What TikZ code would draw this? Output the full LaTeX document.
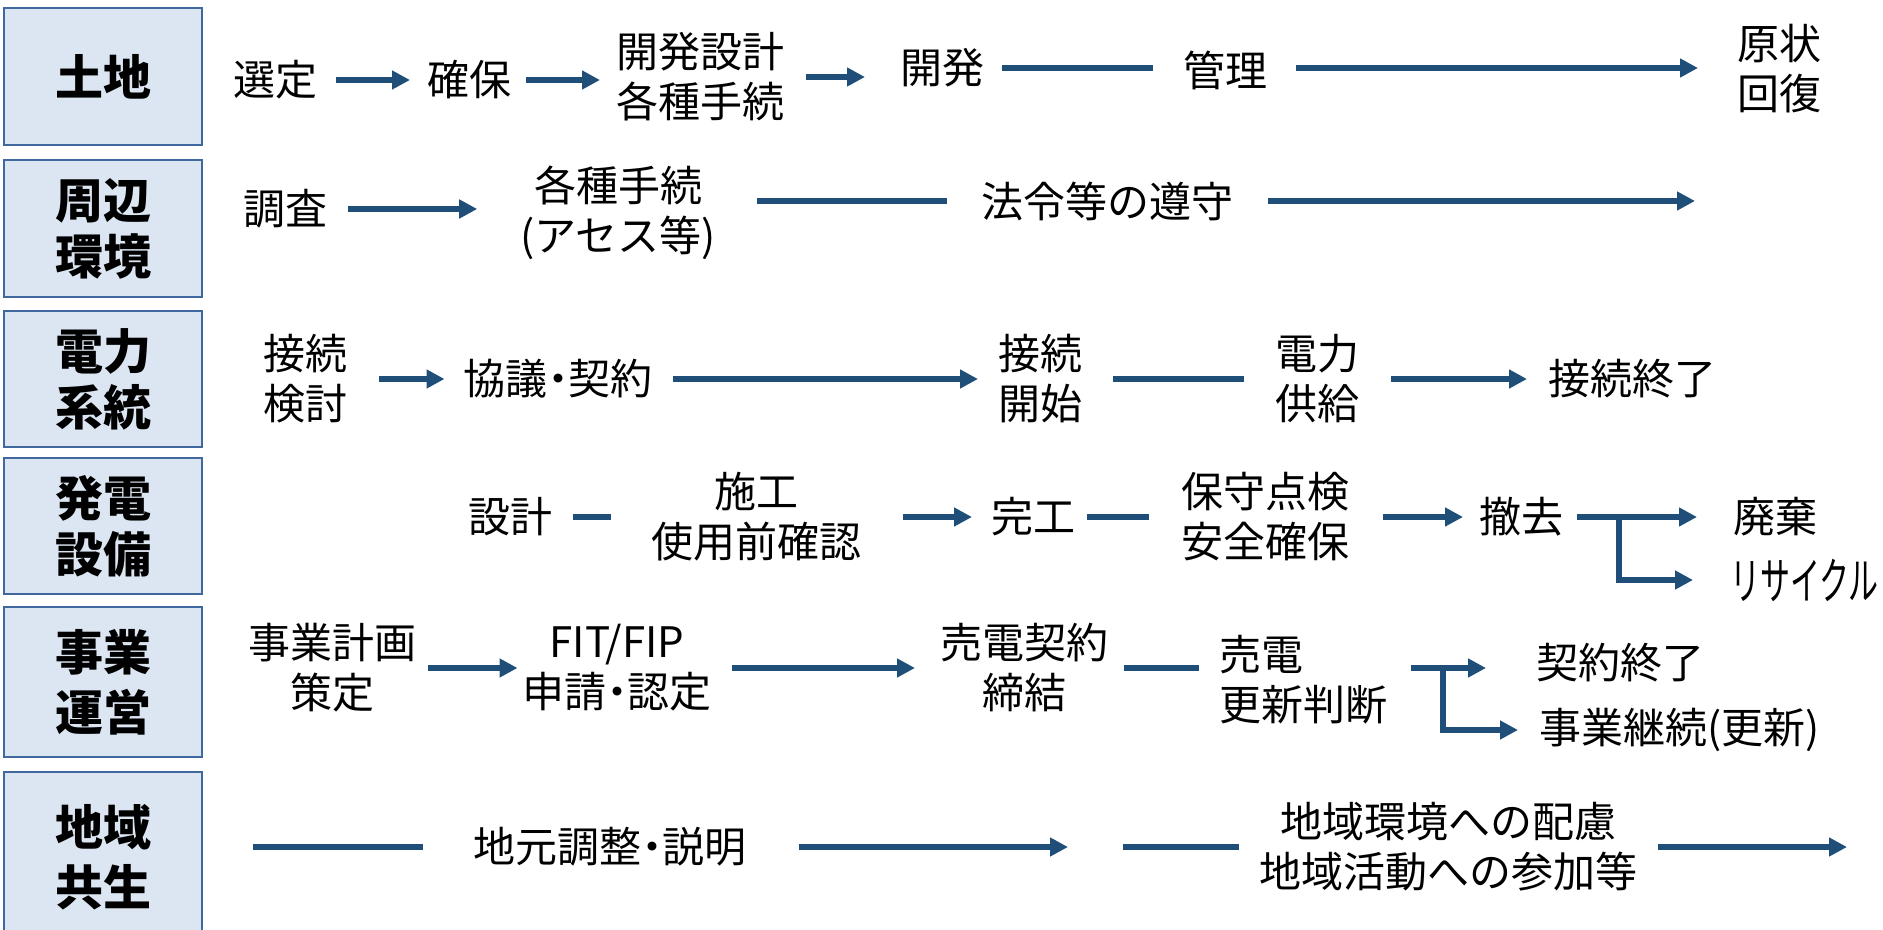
\documentclass[tikz,border=0pt]{standalone}
\usepackage{fontspec}
\usepackage{graphicx}
\setmainfont{Noto Sans CJK JP}
\newfontfamily\jpp{Noto Sans CJK JP}[RawFeature=+palt]
\usetikzlibrary{arrows.meta,calc}
\definecolor{arrowblue}{HTML}{1F4E79}
\definecolor{boxfill}{HTML}{DCE6F2}
\definecolor{boxline}{HTML}{41689E}
\tikzset{
  ln/.style={draw=arrowblue, line width=3.2pt},
  arr/.style={ln, -{Triangle[length=9pt,width=9pt]}},
  head/.style={draw=boxline, line width=1pt, fill=boxfill, minimum width=99pt,
    inner sep=0pt, outer sep=0pt, align=center},
  hfont/.style={font=\fontsize{24}{28}\selectfont\bfseries},
  hfontb/.style={font=\fontsize{24}{30}\selectfont\bfseries},
  txt/.style={inner sep=0pt, outer sep=0pt, align=center,
    font=\fontsize{21}{25}\selectfont},
}
\newcommand\conn[6][arr]{%
  \path ($(#2.east)+(#4,0)$) coordinate (cs) ($(#3.west)+(-#5,0)$) coordinate (ct);
  \draw[#1] (cs |- #6) -- (ct |- #6);}
\newcommand\middot{{\jpp ・}}
\begin{document}
\begin{tikzpicture}[x=0.5pt,y=-0.5pt]
\useasboundingbox (0,0) rectangle (1883,930);
% heading boxes
\node[head,hfont,minimum height=68.5pt] (h1) at (103,76.5) {土地};
\node[head,hfont,minimum height=68.5pt] (h2) at (103,228.5) {周辺\\環境};
\node[head,hfont,minimum height=68pt] (h3) at (103,379) {電力\\系統};
\node[head,hfont,minimum height=68pt] (h4) at (103,526) {発電\\設備};
\node[head,hfontb,minimum height=75pt] (h5) at (103,682) {事業\\運営};
\begin{scope}
\clip (0,0) rectangle (1883,930);
\node[head,hfontb,minimum height=85pt] (h6) at (103,857) {地域\\共生};
\end{scope}
% row 1
\node[txt] (a1) at (275,80) {選定};
\node[txt] (a2) at (469,80) {確保};
\node[txt] (a3) at (700,77) {開発設計\\各種手続};
\node[txt] (a4) at (942,68) {開発};
\node[txt] (a5) at (1225,70) {管理};
\node[txt] (a6) at (1779,69) {原状\\回復};
\conn{a1}{a2}{19}{17}{a1}
\conn{a2}{a3}{15}{16}{a2}
\conn{a3}{a4}{22}{35}{a3}
\conn[ln]{a4}{a5}{18}{30}{a4}
\conn{a5}{a6}{29}{39}{a4}
% row 2
\node[txt] (b1) at (285,209) {調査};
\node[txt] (b2) at (618,213) {各種手続\\(アセス等)};
\node[txt] (b3) at (1107,201) {法令等の遵守};
\coordinate (b4) at (1695,201);
\conn{b1}{b2}{21}{43}{b1}
\conn[ln]{b2}{b3}{41}{34}{b3}
\draw[arr] ($(b3.east)+(35,0)$) -- (b4);
% row 3
\node[txt] (c1) at (305,379) {接続\\検討};
\node[txt] (c2) at (558,379) {協議\middot 契約};
\node[txt] (c3) at (1040,379) {接続\\開始};
\node[txt] (c4) at (1317,379) {電力\\供給};
\node[txt] (c5) at (1632,379) {接続終了};
\conn{c1}{c2}{32}{19}{c1}
\conn{c2}{c3}{20}{20}{c2}
\conn[ln]{c3}{c4}{31}{31}{c3}
\conn{c4}{c5}{32}{21}{c4}
% row 4
\node[txt] (d1) at (510,517) {設計};
\node[txt] (d2) at (756,517) {施工\\使用前確認};
\node[txt] (d3) at (1033,517) {完工};
\node[txt] (d4) at (1265,517) {保守点検\\安全確保};
\node[txt] (d5) at (1521,517) {撤去};
\node[txt] (d6) at (1775,517) {廃棄};
\node[txt,anchor=west] (d7) at (1730,580) {\fontsize{25}{25}\selectfont\scalebox{0.6}[1]{リサイクル}};
\conn[ln]{d1}{d2}{21}{40}{d1}
\conn{d2}{d3}{42}{19}{d2}
\conn[ln]{d3}{d4}{12}{32}{d3}
\conn{d4}{d5}{34}{16}{d4}
\conn{d5}{d6}{14}{36}{d5}
\coordinate (d5b) at ($(d5.east)+(56,0)$);
\draw[arr] (d5b) |- ($(d7.west)+(-37,0)$);
% row 5
\node[txt] (e1) at (332,668) {事業計画\\策定};
\node[txt] (e2) at (617,668) {FIT/FIP\\申請\middot 認定};
\node[txt] (e3) at (1024,668) {売電契約\\締結};
\node[txt,anchor=west,align=left] (e4) at (1219,680) {売電\\更新判断};
\node[txt] (e5) at (1620,663) {契約終了};
\node[txt,anchor=west] (e6) at (1539,730) {事業継続(更新)};
\conn{e1}{e2}{12}{5}{e1}
\conn{e2}{e3}{20}{25}{e2}
\conn[ln]{e3}{e4}{16}{20}{e3}
\conn{e4}{e5}{24}{50}{e3}
\coordinate (e4b) at ($(e4.east)+(56,-12)$);
\draw[arr] (e4b) |- ($(e6.west)+(-21,0)$);
% row 6
\coordinate (f0) at (253,847);
\node[txt] (f1) at (610,847) {地元調整\middot 説明};
\coordinate (f1e) at (1068,847);
\coordinate (f2s) at (1123,847);
\node[txt] (f2) at (1448,847) {地域環境への配慮\\地域活動への参加等};
\coordinate (f3) at (1847,847);
\draw[ln] (f0) -- ($(f1.west)+(-51,0)$);
\draw[arr] ($(f1.east)+(52,0)$) -- (f1e);
\draw[ln] (f2s) -- ($(f2.west)+(-20,0)$);
\draw[arr] ($(f2.east)+(21,0)$) -- (f3);
\end{tikzpicture}
\end{document}
